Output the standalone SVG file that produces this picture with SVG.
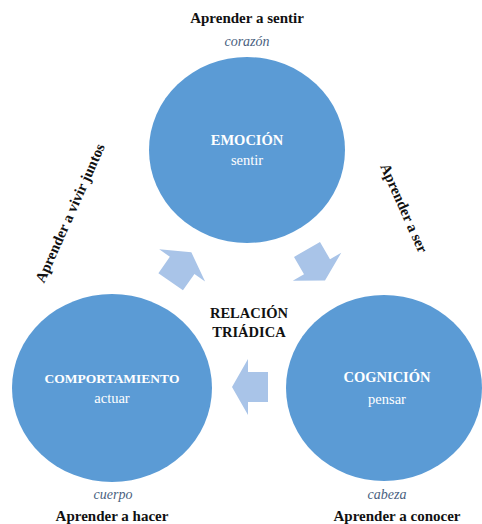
<svg xmlns="http://www.w3.org/2000/svg" width="482" height="524" viewBox="0 0 482 524">
<defs>
<style>
.node{fill:#5b9bd5;}
.arr{fill:#a9c4e8;}
.t{font-family:"Liberation Serif","Times New Roman",serif;text-anchor:middle;}
.nb{font-weight:bold;font-size:14.5px;fill:#ffffff;}
.nr{font-size:14.5px;fill:#ffffff;}
.lb{font-weight:bold;font-size:15px;fill:#111111;}
.it{font-style:italic;font-size:14px;fill:#4a5f80;}
</style>
<path id="blk" d="M-18,-15 L2,-15 L2,-28 L18,0 L2,28 L2,15 L-18,15 Z"/>
</defs>
<rect width="482" height="524" fill="#ffffff"/>
<g id="connectors">
<use href="#blk" class="arr" transform="translate(316,265) rotate(60)"/>
<use href="#blk" class="arr" transform="translate(250,387) rotate(180)"/>
<use href="#blk" class="arr" transform="translate(181,267) rotate(-55)"/>
</g>
<g id="emocion">
<ellipse class="node" cx="247" cy="150" rx="98" ry="93"/>
<text class="t nb" x="247" y="145">EMOCIÓN</text>
<text class="t nr" x="247" y="165">sentir</text>
</g>
<g id="comportamiento">
<ellipse class="node" cx="112" cy="388" rx="100" ry="94"/>
<text class="t nb" x="112" y="383" style="font-size:13.5px">COMPORTAMIENTO</text>
<text class="t nr" x="112" y="403">actuar</text>
</g>
<g id="cognicion">
<ellipse class="node" cx="384" cy="388" rx="98" ry="93"/>
<text class="t nb" x="387" y="382">COGNICIÓN</text>
<text class="t nr" x="387" y="404">pensar</text>
</g>
<g id="relacion">
<text class="t lb" x="249" y="318" style="font-size:14.5px">RELACIÓN</text>
<text class="t lb" x="249" y="337" style="font-size:14.5px">TRIÁDICA</text>
</g>
<g id="labels">
<text class="t lb" x="247" y="23">Aprender a sentir</text>
<text class="t it" x="247" y="46">corazón</text>
<text class="t it" x="113" y="499">cuerpo</text>
<text class="t lb" x="112" y="521">Aprender a hacer</text>
<text class="t it" x="387" y="499">cabeza</text>
<text class="t lb" x="397" y="521">Aprender a conocer</text>
<text class="t lb" transform="translate(404,208) rotate(66)" x="0" y="5">Aprender a ser</text>
<text class="t lb" transform="translate(70,213) rotate(-66)" x="0" y="5">Aprender a vivir juntos</text>
</g>
</svg>
